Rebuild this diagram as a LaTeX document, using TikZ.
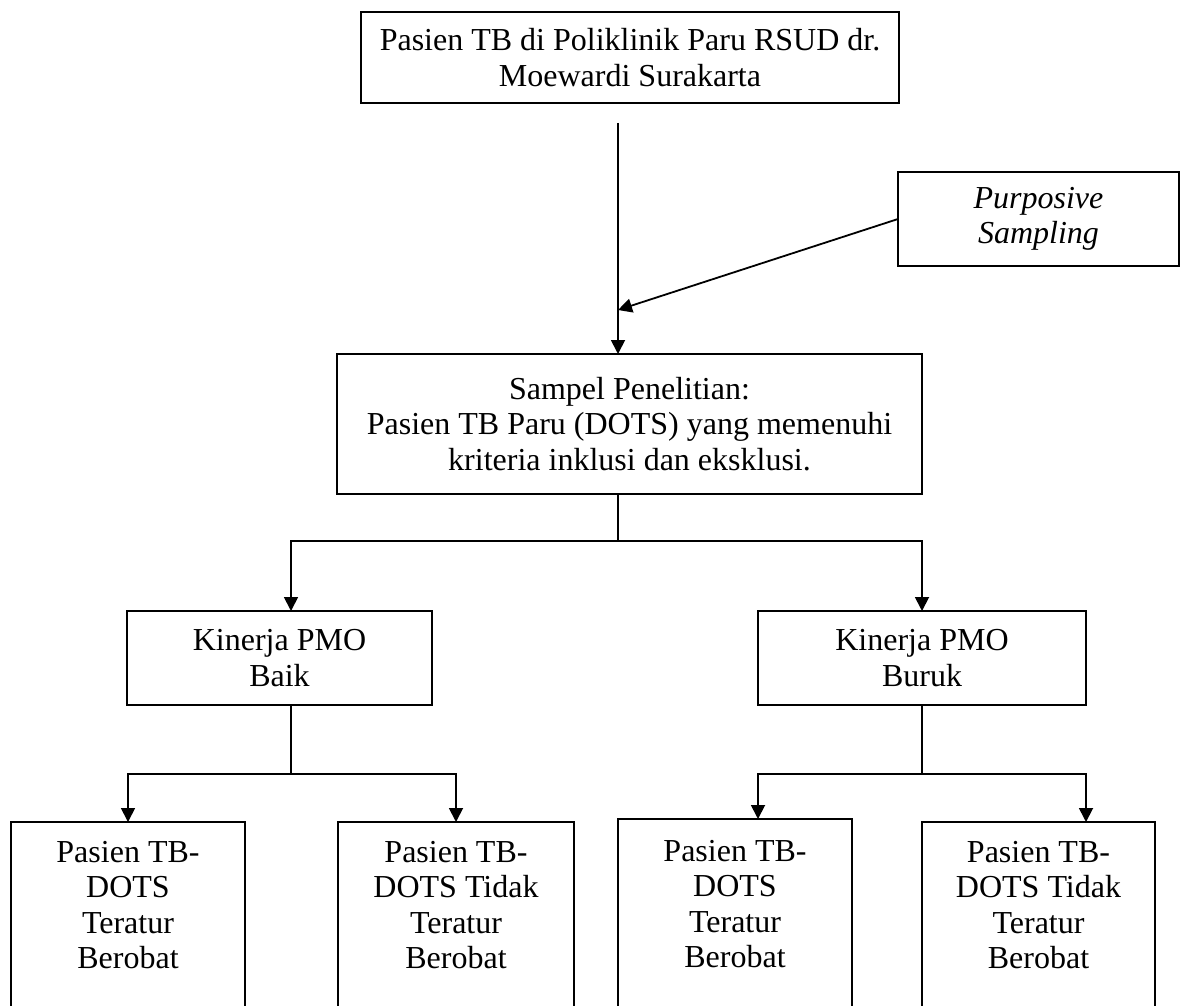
\documentclass[tikz,border=0pt]{standalone}
\usepackage{fontspec}
\setmainfont{Liberation Serif}
\usetikzlibrary{arrows.meta}
\begin{document}
\begin{tikzpicture}[x=0.5pt,y=-0.5pt,
  box/.style={draw, line width=0.9pt, inner sep=0pt, outer sep=0pt, align=center, font=\fontsize{16}{17.75}\selectfont},
  txt/.style={inner sep=0pt, align=center, font=\fontsize{16}{17.75}\selectfont},
  conn/.style={line width=0.9pt},
  arr/.style={conn, -{Triangle[length=7pt,width=7pt]}}]
\useasboundingbox (0,0) rectangle (1181,1005);
% boxes
\node[box, minimum width=269pt, minimum height=45.5pt] (top) at (630,57.5) {Pasien TB di Poliklinik Paru RSUD dr.\\Moewardi Surakarta};
\node[box, minimum width=140.5pt, minimum height=47pt] (purp) at (1038.5,219) {\itshape Purposive\\\itshape Sampling};
\node[box, minimum width=292.5pt, minimum height=70pt] (sample) at (629.5,424) {Sampel Penelitian:\\Pasien TB Paru (DOTS) yang memenuhi\\kriteria inklusi dan eksklusi.};
\node[box, minimum width=152.5pt, minimum height=47pt] (baik) at (279.5,658) {Kinerja PMO\\Baik};
\node[box, minimum width=164pt, minimum height=47pt] (buruk) at (922,658) {Kinerja PMO\\Buruk};
% bottom boxes (open at the page bottom)
\node[box, minimum width=117pt, minimum height=100pt] (b1) at (128,922) {};
\node[box, minimum width=118pt, minimum height=100pt] (b2) at (456,922) {};
\node[box, minimum width=117pt, minimum height=101.5pt] (b3) at (735,920.5) {};
\node[box, minimum width=116.5pt, minimum height=100pt] (b4) at (1038.5,922) {};
\node[txt] (t1) at (128,905) {Pasien TB-\\DOTS\\Teratur\\Berobat};
\node[txt] (t2) at (456,905) {Pasien TB-\\DOTS Tidak\\Teratur\\Berobat};
\node[txt] (t3) at (735,904) {Pasien TB-\\DOTS\\Teratur\\Berobat};
\node[txt] (t4) at (1038.5,905) {Pasien TB-\\DOTS Tidak\\Teratur\\Berobat};
% helper coordinates
\coordinate (c1) at (618,123);
\coordinate (c2) at (618,310);
\coordinate (j1) at (618,541);
\coordinate (j2) at (291,774);
\coordinate (j3) at (922,774);
% connectors
\draw[arr] (c1) -- (c1 |- sample.north);
\draw[arr] (purp.west) -- (c2);
\draw[conn] (sample.south -| j1) -- (j1);
\draw[arr] (j1) -- (291,541) -- (baik.north -| 291,0);
\draw[arr] (j1) -- (buruk.north |- j1) -- (buruk.north);
\draw[conn] (baik.south -| j2) -- (j2);
\draw[arr] (j2) -- (b1.north |- j2) -- (b1.north);
\draw[arr] (j2) -- (b2.north |- j2) -- (b2.north);
\draw[conn] (buruk.south) -- (j3);
\draw[arr] (j3) -- (758,774) -- (b3.north -| 758,0);
\draw[arr] (j3) -- (1086,774) -- (b4.north -| 1086,0);
\end{tikzpicture}
\end{document}
